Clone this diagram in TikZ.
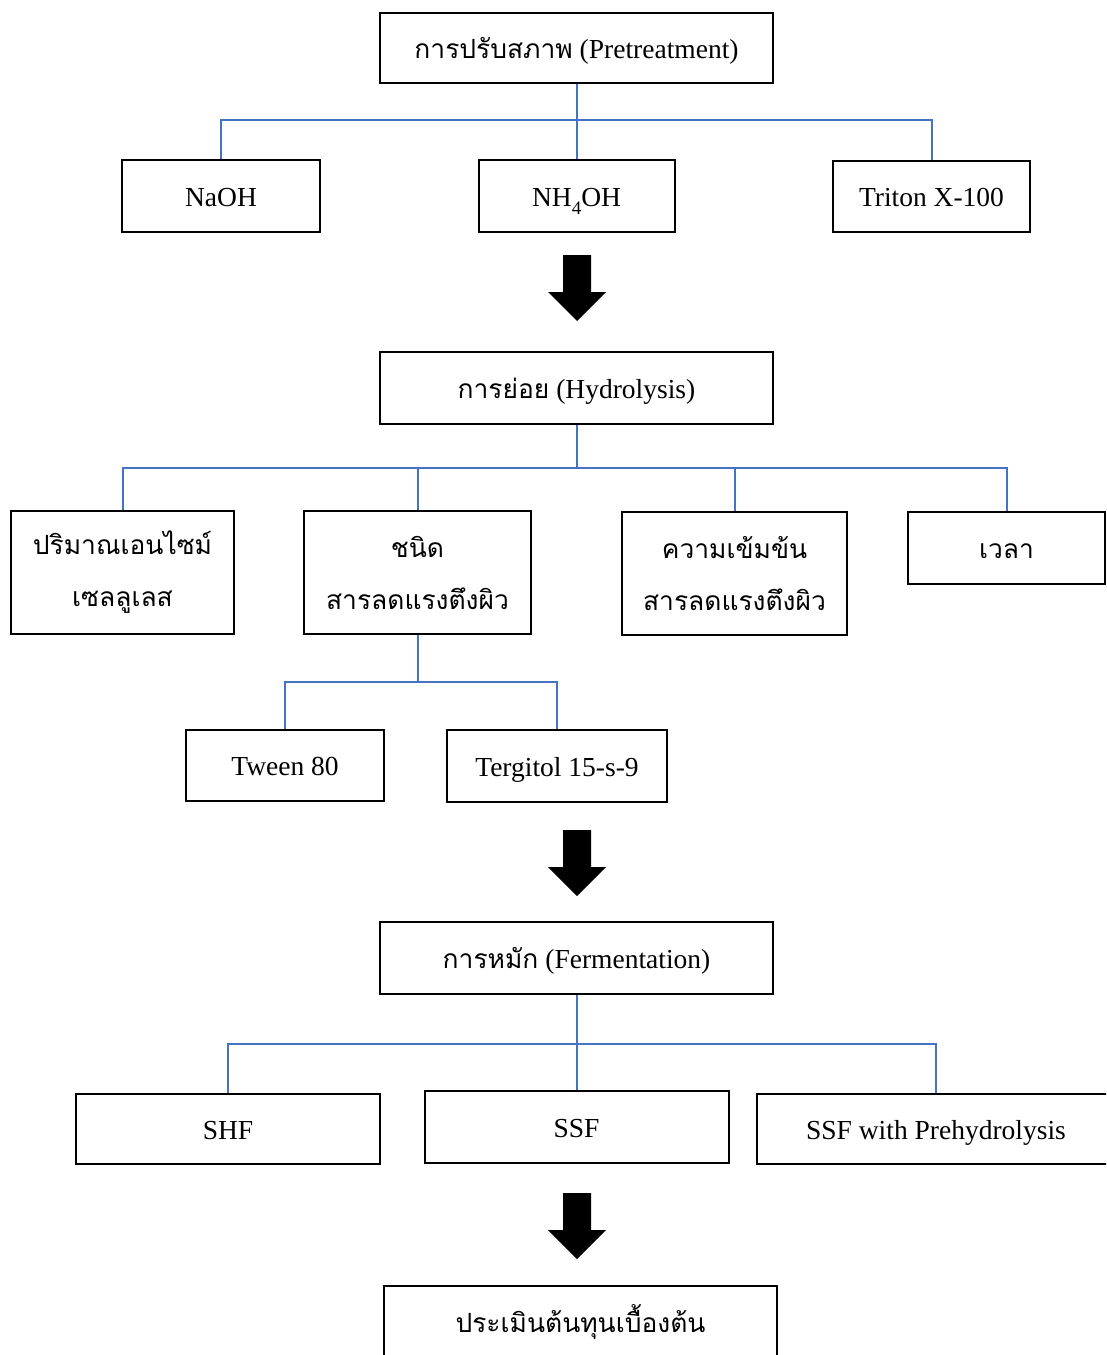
\documentclass[tikz,border=0pt]{standalone}
\usepackage{fontspec}
\setmainfont{Liberation Serif}
\newfontfamily\thai[Script=Thai,Scale=0.96]{Loma}
\definecolor{linkblue}{HTML}{4472C4}
\tikzset{
  box/.style={draw=black, line width=2pt, fill=white, inner sep=0pt, align=center,
    font=\fontsize{27.5}{52}\selectfont},
  oneline/.style={box, text height=21pt, text depth=1pt},
  conn/.style={draw=linkblue, line width=2pt},
  pics/downarrow/.style={code={
    \fill[black] (-14,0) -- (14,0) -- (14,37) -- (29,37) -- (0,66) -- (-29,37) -- (-14,37) -- cycle;}}
}
\begin{document}
\begin{tikzpicture}[x=1pt,y=-1pt]
\useasboundingbox (0,0) rectangle (1106,1355);
\clip (0,0) rectangle (1106,1355);
% level 1
\node[oneline, minimum width=393, minimum height=70] (pre) at (576.5,48) {{\thai การปรับสภาพ} (Pretreatment)};
\node[oneline, minimum width=198, minimum height=72] (naoh) at (221,196) {NaOH};
\node[oneline, minimum width=196, minimum height=72] (nh) at (576.5,196) {NH\smash{\raisebox{-0.3em}{\fontsize{19}{19}\selectfont 4}}OH};
\node[oneline, minimum width=197, minimum height=71] (tri) at (931.5,196.5) {Triton X-100};
\coordinate (j1) at (576.5,120);
\draw[conn] (pre.south) -- (nh.north);
\draw[conn] (naoh.north) -- (naoh.north |- j1) -- (tri.north |- j1) -- (tri.north);
\pic at (577,255) {downarrow};
% level 2
\node[oneline, minimum width=393, minimum height=72] (hyd) at (576.5,388) {{\thai การย่อย} (Hydrolysis)};
\node[box, minimum width=223, minimum height=123] (enz) at (122.5,572.5) {\thai ปริมาณเอนไซม์\\\thai เซลลูเลส};
\node[box, minimum width=227, minimum height=123] (typ) at (417.5,572.5) {\thai ชนิด\\\thai สารลดแรงตึงผิว};
\node[box, minimum width=225, minimum height=123] (con) at (734.5,573.5) {\thai ความเข้มข้น\\\thai สารลดแรงตึงผิว};
\node[oneline, minimum width=197, minimum height=72] (tim) at (1006.5,548) {\thai เวลา};
\coordinate (j2) at (576.5,468);
\draw[conn] (hyd.south) -- (j2);
\draw[conn] (enz.north) -- (enz.north |- j2) -- (tim.north |- j2) -- (tim.north);
\draw[conn] (typ.north |- j2) -- (typ.north);
\draw[conn] (con.north |- j2) -- (con.north);
\node[oneline, minimum width=198, minimum height=71] (tw) at (285,765.5) {Tween 80};
\node[oneline, minimum width=220, minimum height=72] (tg) at (557,766) {Tergitol 15-s-9};
\coordinate (j3) at (417.5,682);
\draw[conn] (typ.south) -- (j3);
\draw[conn] (tw.north) -- (tw.north |- j3) -- (tg.north |- j3) -- (tg.north);
\pic at (577,830) {downarrow};
% level 3
\node[oneline, minimum width=393, minimum height=72] (fer) at (576.5,958) {{\thai การหมัก} (Fermentation)};
\node[oneline, minimum width=304, minimum height=70] (shf) at (228,1129) {SHF};
\node[oneline, minimum width=304, minimum height=72] (ssf) at (576.5,1127) {SSF};
\node[oneline, minimum width=358, minimum height=70] (ssfp) at (936,1129) {SSF with Prehydrolysis};
\coordinate (j4) at (576.5,1044);
\draw[conn] (fer.south) -- (ssf.north);
\draw[conn] (shf.north) -- (shf.north |- j4) -- (ssfp.north |- j4) -- (ssfp.north);
\pic at (577,1193) {downarrow};
% level 4
\node[oneline, minimum width=393, minimum height=72] (cost) at (580.5,1322) {\thai ประเมินต้นทุนเบื้องต้น};
\end{tikzpicture}
\end{document}
